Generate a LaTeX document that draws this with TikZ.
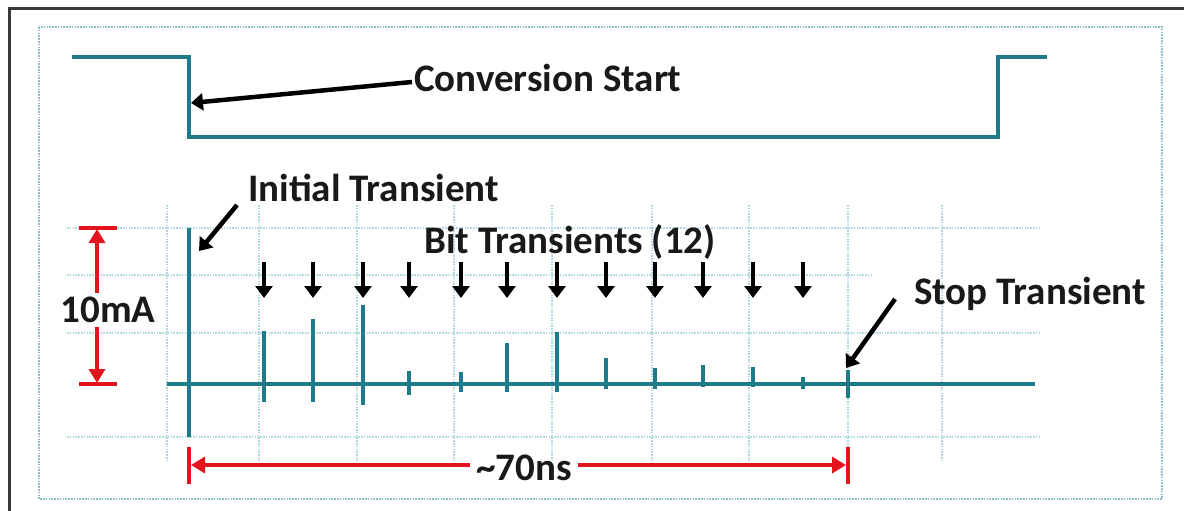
\documentclass[tikz,border=0pt]{standalone}
\usepackage{fontspec}
\setmainfont{Carlito}
\usetikzlibrary{arrows.meta}
\definecolor{sig}{HTML}{1F7B89}
\definecolor{gridc}{HTML}{B0D8E2}
\definecolor{bord}{HTML}{8FBEC6}
\definecolor{dimred}{HTML}{E3141C}
\definecolor{framec}{HTML}{3A3A3A}
\tikzset{
  signal/.style={draw=sig, line width=3.5pt, line join=miter},
  spike/.style={draw=sig, line width=3.5pt},
  gridline/.style={draw=gridc, line width=1.8pt, dash pattern=on 1.6pt off 1.2pt},
  blk/.style={draw=black, line width=4.5pt, -{Triangle[length=12pt,width=17pt]}},
  dimarrow/.style={draw=dimred, line width=4pt, -{Triangle[length=14pt,width=16pt]}},
  dimbar/.style={draw=dimred, line width=4pt},
  lbl/.style={font=\fontsize{39}{42}\selectfont\bfseries, inner sep=0pt, text=black!90}
}
\begin{document}
\begin{tikzpicture}[x=1pt,y=-1pt]
\useasboundingbox (0,0) rectangle (1184,511);
\clip (0,0) rectangle (1184,511);
\fill[white] (0,0) rectangle (1184,511);
% outer frame
\draw[framec, line width=3pt] (9,9) rectangle (1200,530);
% dotted border
\draw[bord, line width=1.8pt, dash pattern=on 1.6pt off 1.2pt] (39,27) rectangle (1162,499);
% grid
\foreach \yy/\xe in {228/1040,275/872,333/1040,437/1040}
  \draw[gridline] (67,\yy) -- (\xe,\yy);
\foreach \xx in {167,259,357,454,552,652,749,848,942}
  \draw[gridline] (\xx,205) -- (\xx,460);
% conversion start signal
\draw[signal] (72,57) -- (189,57) -- (189,137) -- (998,137) -- (998,57) -- (1047,57);
% axis
\draw[spike] (167,384) -- (1035,384);
% initial transient
\draw[spike] (189,228) -- (189,437);
% bit spikes
\foreach \xx/\yt/\yb in {264/331/402,313/319/402,363/305/405,409/371/395,461/372/392,507/343/392,557/332/392,606/358/389,655/368/389,703/365/387,753/367/387,803/377/389,848/370/398}
  \draw[spike] (\xx,\yt) -- (\xx,\yb);
% labels
\node[lbl, anchor=west] (conv) at (414,78) {Conversion Start};
\node[lbl, anchor=west] (init) at (248,188) {Initial Transient};
\node[lbl] (bits) at (570,242) {Bit Transients (12)};
\node[lbl, anchor=west] (stop) at (914,294) {Stop Transient};
\node[lbl] (ma) at (108,310) {10mA};
\node[lbl] (ns) at (524,468) {\char`~70ns};
% label arrows
\coordinate (convtip) at (191,103);
\coordinate (inittip) at (199,251);
\coordinate (stoptip) at (846,368);
\draw[blk] ([xshift=-2pt,yshift=-4pt]conv.west) -- (convtip);
\draw[blk] (237,205) -- (inittip);
\draw[blk] (895,299) -- (stoptip);
% bit arrows
\foreach \xx in {264,313,363,409,461,507,557,606,655,703,753,803}
  \draw[blk] (\xx,262) -- (\xx,298);
% 10mA dimension
\draw[dimbar] (79,228) -- (117,228);
\draw[dimbar] (79,384) -- (117,384);
\coordinate (matop) at (97,229);
\coordinate (mabot) at (97,383);
\draw[dimarrow] (ma.north -| matop) ++(0,-4) -- (matop);
\draw[dimarrow] (ma.south -| mabot) ++(0,4) -- (mabot);
% 70ns dimension
\draw[dimbar] (189,447) -- (189,484);
\draw[dimbar] (848,447) -- (848,484);
\coordinate (nsl) at (191,465);
\coordinate (nsr) at (846,465);
\draw[dimarrow] (ns.west |- nsl) ++(-6,0) -- (nsl);
\draw[dimarrow] (ns.east |- nsr) ++(6,0) -- (nsr);
\end{tikzpicture}
\end{document}
